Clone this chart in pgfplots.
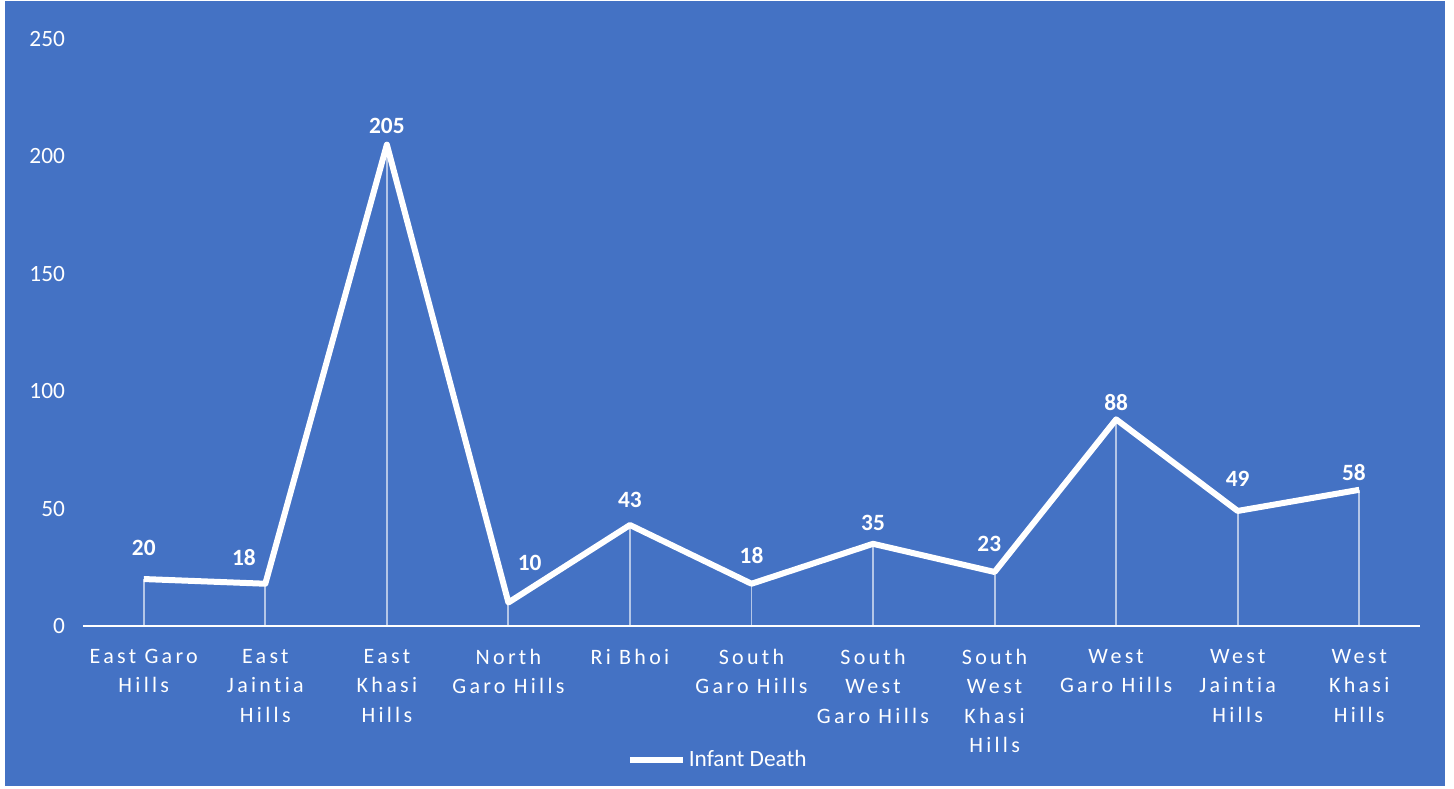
\documentclass[border=0pt]{standalone}
\usepackage{fontspec}
\setmainfont{Carlito}
\newfontfamily\spaced[LetterSpace=15, Ligatures={NoCommon}, RawFeature=-liga]{Carlito}
\usepackage{pgfplots}
\pgfplotsset{compat=1.18}
\usepackage{pgfplotstable}
\definecolor{bgblue}{HTML}{4472C4}

% x, deaths, label shift (pt)
\pgfplotstableread{
x y dx dy
0 20 0 23
1 18 -16 20
2 205 0 14
3 10 16 30
4 43 0 19
5 18 0 21
6 35 0 16
7 23 -4 21
8 88 0 13
9 49 0 24
10 58 -4 13
}\deaths

\begin{document}
\begin{tikzpicture}
\fill[white] (0,0) rectangle (1090.5pt,591.75pt);
\fill[bgblue] (3.75pt,2.25pt) rectangle (1083.75pt,591pt);
\begin{axis}[
    at={(62.25pt,122.25pt)}, anchor=south west,
    scale only axis,
    width=1002.75pt, height=440.25pt,
    xmin=-0.5, xmax=10.5, ymin=0, ymax=250,
    axis x line*=bottom, axis y line*=left,
    x axis line style={white, line width=1.6pt, -},
    y axis line style={draw=none},
    xtick=data, ytick={0,50,...,250},
    major tick length=0pt,
    xticklabels={{East Garo\\Hills},{East\\Jaintia\\Hills},{East\\Khasi\\Hills},{North\\Garo Hills},{Ri Bhoi},{South\\Garo Hills},{South\\West\\Garo Hills},{South\\West\\Khasi\\Hills},{West\\Garo Hills},{West\\Jaintia\\Hills},{West\\Khasi\\Hills}},
    xticklabel style={white, align=center, font=\spaced\fontsize{16.5}{22}\selectfont, yshift=-14pt},
    yticklabel style={white, font=\fontsize{17.5}{20}\selectfont, xshift=-10pt},
    /pgf/number format/assume math mode=true,
    legend style={at={(0.475,-0.228)}, anchor=center, draw=none, fill=none,
        text=white, font=\fontsize{17.5}{20}\selectfont},
    legend image code/.code={\draw[#1, line width=4.5pt] (0pt,0pt) -- (40pt,0pt);},
]
\addplot[ycomb, white, opacity=0.6, line width=1.4pt, mark=none, forget plot] table[x=x, y=y] {\deaths};
\addplot[white, line width=4.5pt, line join=round, mark=none,
    nodes near coords,
    visualization depends on={\thisrow{dx}\as\dx},
    visualization depends on={\thisrow{dy}\as\dy},
    every node near coord/.append style={anchor=center, xshift=\dx pt, yshift=\dy pt,
        text=white, font=\bfseries\fontsize{17.5}{20}\selectfont,
        /pgf/number format/assume math mode=true},
] table[x=x, y=y] {\deaths};
\legend{Infant Death}
\end{axis}
\end{tikzpicture}
\end{document}
